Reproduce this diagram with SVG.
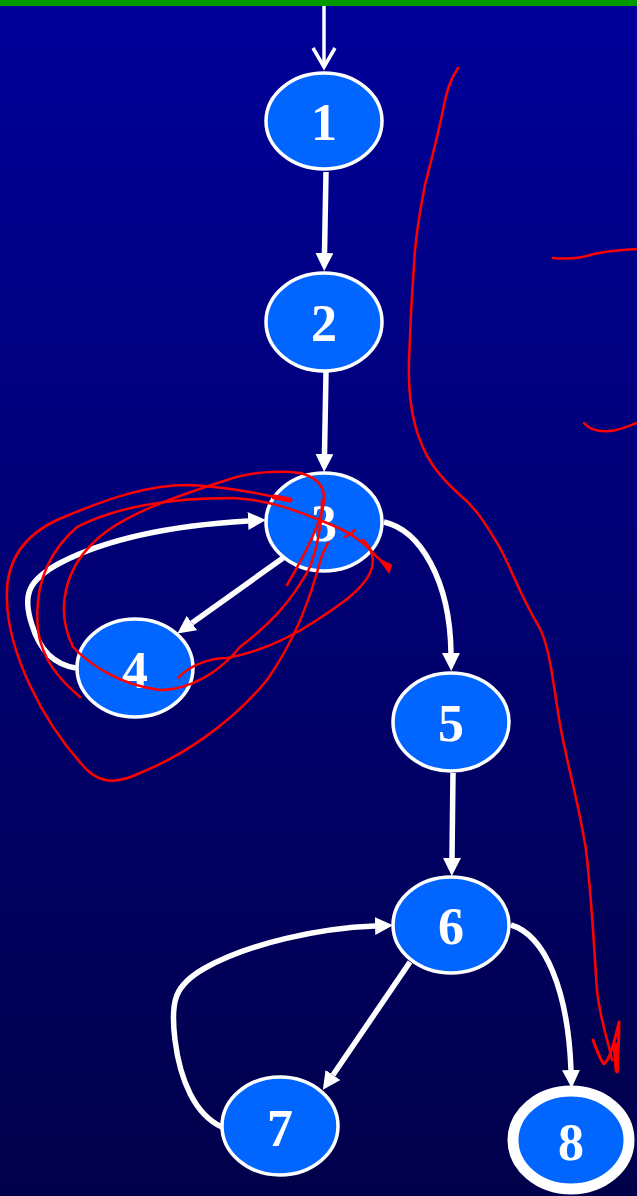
<svg xmlns="http://www.w3.org/2000/svg" width="637" height="1196" viewBox="0 0 637 1196">
<defs>
<linearGradient id="bg" x1="0" y1="0" x2="0" y2="1">
<stop offset="0" stop-color="#000099"/>
<stop offset="1" stop-color="#00004A"/>
</linearGradient>
<marker id="ah" markerUnits="userSpaceOnUse" markerWidth="18" markerHeight="18" refX="0" refY="9" orient="auto" viewBox="0 0 18 18">
<path d="M0,0 L18,9 L0,18 z" fill="#fff"/>
</marker>
<style>
.node ellipse{fill:#0066FF;stroke:#fff;stroke-width:3.5}
.node text{font-family:"Liberation Serif","Times New Roman",serif;font-weight:bold;font-size:52px;fill:#fff;text-anchor:middle}
.edge{fill:none;stroke:#fff;stroke-width:5.5;marker-end:url(#ah)}
.ink{fill:none;stroke:#FF0000;stroke-width:2.5;stroke-linecap:round;stroke-linejoin:round}
</style>
</defs>
<rect x="0" y="0" width="637" height="1196" fill="url(#bg)"/>
<rect x="0" y="0" width="637" height="6" fill="#009900"/>

<g id="connectors">
<path d="M324,6 L324,67" fill="none" stroke="#fff" stroke-width="3.5"/>
<path d="M313,48 L324,67 L335,48" fill="none" stroke="#fff" stroke-width="3.5" stroke-linejoin="miter"/>
<path class="edge" d="M326,172 L324.5,253"/>
<path class="edge" d="M326,372 L324.5,454"/>
<path class="edge" d="M283,558 L192,623"/>
<path class="edge" d="M76,668 C50,664 38,645 32,625 C22,595 28,580 60,563 C110,537 180,525 248,521"/>
<path class="edge" d="M384,522 C420,530 450,580 451,653"/>
<path class="edge" d="M453,773 L452,858"/>
<path class="edge" d="M410,962 L333,1075"/>
<path class="edge" d="M222,1127 C195,1115 180,1080 175,1040 C170,1000 175,985 205,968 C250,943 320,928 375,926"/>
<path class="edge" d="M511,925 C545,935 568,990 571,1070"/>
</g>

<g id="node1" class="node"><ellipse cx="324" cy="121" rx="58" ry="48"/><text x="324" y="140">1</text></g>
<g id="node2" class="node"><ellipse cx="324" cy="322" rx="58" ry="49"/><text x="324" y="341">2</text></g>
<g id="node3" class="node"><ellipse cx="324" cy="522" rx="58" ry="49"/><text x="324" y="541">3</text></g>
<g id="node4" class="node"><ellipse cx="135" cy="668" rx="58" ry="49"/><text x="135" y="688">4</text></g>
<g id="node5" class="node"><ellipse cx="451" cy="722" rx="58" ry="49"/><text x="451" y="741">5</text></g>
<g id="node6" class="node"><ellipse cx="451" cy="925" rx="58" ry="48"/><text x="451" y="944">6</text></g>
<g id="node7" class="node"><ellipse cx="280" cy="1126" rx="58" ry="49"/><text x="280" y="1146">7</text></g>
<g id="node8" class="node"><ellipse cx="571" cy="1140" rx="58" ry="49" style="stroke-width:11"/><text x="571" y="1160">8</text></g>

<g id="annotations">
<path class="ink" d="M458,68 C450,80 447,90 443,110 C438,135 430,165 425,185 C420,210 417,230 415,250 C412,290 410,330 409,360 C408,395 412,420 420,440 C428,462 440,477 460,495 C478,510 488,528 500,548 C512,570 520,595 538,625 C552,650 553,690 562,735 C570,775 580,810 586,850 C592,900 594,950 597,990 C600,1020 608,1040 612,1060"/>
<path class="ink" d="M593,1040 C597,1050 600,1060 604,1064 C610,1060 615,1040 619,1022 C619,1040 618,1055 617,1072" style="stroke-width:3"/>
<path class="ink" d="M615,1045 L617,1070" style="stroke-width:5"/>
<path class="ink" d="M553,258 C565,259 578,259 590,255 C605,251 620,250 637,249"/>
<path class="ink" d="M584,423 C590,430 600,432 610,431 C620,430 628,426 637,423"/>
<path class="ink" d="M287,500 C260,493 220,486 187,485 C150,485 110,497 57,520 C25,535 5,560 7,600 C8,650 40,720 87,770 C100,782 115,785 140,773 C180,757 230,725 267,680 C295,640 310,600 322,555 L328,543"/>
<path class="ink" d="M274,497 C280,498 285,499 290,500" style="stroke-width:5"/>
<path class="ink" d="M287,585 C300,563 317,533 323,507 C327,490 320,478 300,473 C280,470 250,472 227,480 C180,495 120,515 93,543 C65,570 55,610 73,647 C90,665 120,685 160,690 C190,690 220,672 240,647 C265,628 290,605 310,567 C318,545 322,520 322,500"/>
<path class="ink" d="M80,697 C60,680 42,660 38,630 C34,590 45,555 77,527 C110,510 160,498 233,498 C270,500 295,510 327,523 C345,530 360,538 377,557 L388,567"/>
<path d="M380,560 L391,565 L389,572 z" fill="#FF0000" stroke="#FF0000" stroke-width="2"/>
<path class="ink" d="M178,678 C190,665 210,658 227,658 C260,652 290,638 317,620 C340,605 362,590 370,573 C376,560 372,548 363,540"/>
<path class="ink" d="M345,537 C349,535 352,533 355,530"/>
</g>
</svg>
